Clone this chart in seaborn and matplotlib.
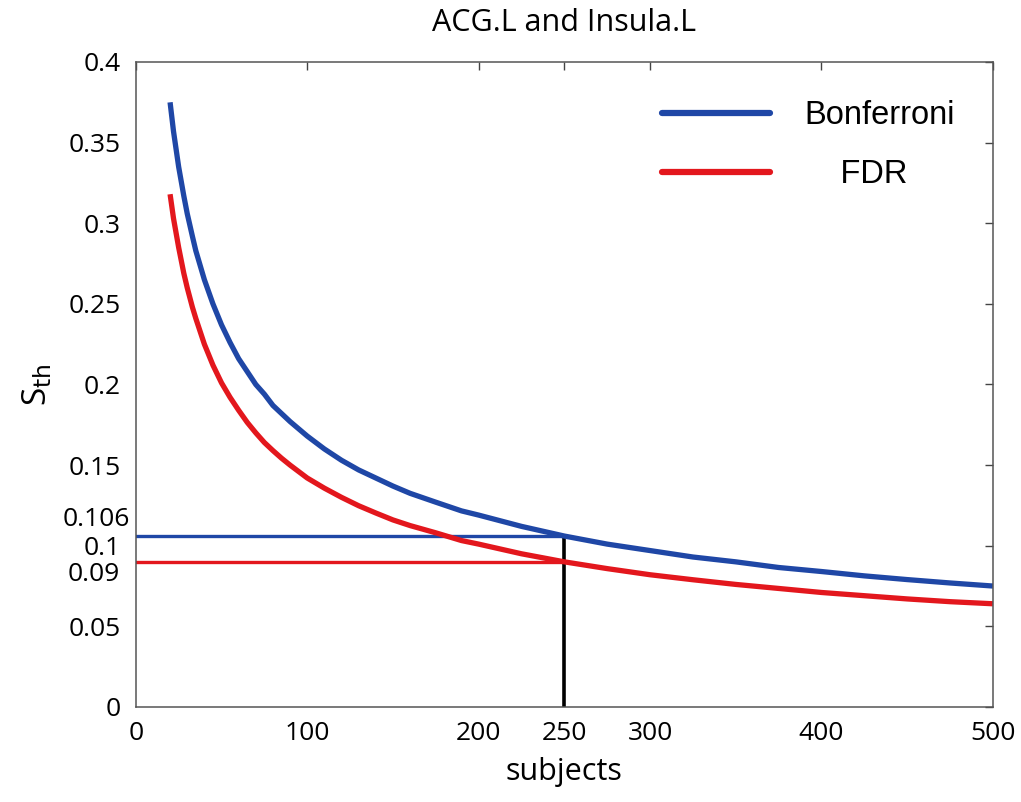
import pandas as pd
import matplotlib
matplotlib.use("Agg")
import matplotlib.pyplot as plt
import matplotlib.transforms as mtransforms
import seaborn as sns

# values
subjects = [20, 22, 25, 28, 30, 33, 35, 40, 45, 50,
            55, 60, 65, 70, 75, 80, 85, 90, 100, 110,
            120, 130, 140, 150, 160, 175, 190, 200, 225, 250,
            275, 300, 325, 350, 375, 400, 425, 450, 475, 500]
bonferroni = [0.375, 0.357, 0.335, 0.317, 0.306, 0.292, 0.283, 0.265, 0.250, 0.237,
              0.226, 0.216, 0.208, 0.200, 0.194, 0.187, 0.182, 0.177, 0.168, 0.160,
              0.153, 0.147, 0.142, 0.137, 0.1325, 0.127, 0.1216, 0.119, 0.112, 0.106,
              0.101, 0.097, 0.093, 0.090, 0.0865, 0.084, 0.0813, 0.079, 0.0769, 0.075]
fdr = [0.318, 0.303, 0.285, 0.269, 0.260, 0.248, 0.241, 0.225, 0.212, 0.201,
       0.192, 0.184, 0.1765, 0.170, 0.164, 0.159, 0.1543, 0.150, 0.142, 0.1357,
       0.130, 0.1248, 0.1203, 0.116, 0.1125, 0.108, 0.1032, 0.101, 0.095, 0.090,
       0.0858, 0.082, 0.0789, 0.076, 0.0735, 0.071, 0.069, 0.067, 0.0653, 0.064]
mark_n = 250
mark_bonf = 0.106
mark_fdr = 0.09
x_ticks = [0, 100, 200, 250, 300, 400, 500]
y_ticks = [0, 0.05, 0.1, 0.15, 0.2, 0.25, 0.3, 0.35, 0.4]
y_ticklabels = ['0', '0.05', '0.1', '0.15', '0.2', '0.25', '0.3', '0.35', '0.4']

blue = '#1f47a6'
red = '#e3171d'

df = pd.DataFrame({
    'subjects': subjects * 2,
    'S': bonferroni + fdr,
    'method': ['Bonferroni'] * len(subjects) + ['FDR'] * len(subjects),
})

sns.set_style('white')
plt.rcParams['font.family'] = ['Open Sans', 'DejaVu Sans']
plt.rcParams['text.color'] = 'black'
plt.rcParams['axes.labelcolor'] = 'black'

fig = plt.figure(figsize=(10.21, 8.02), dpi=100)
ax = fig.add_axes([0.133, 0.1185, 0.8395, 0.8042])

# reference lines first so curves sit on top
ax.plot([0, mark_n], [mark_bonf, mark_bonf], color=blue, lw=2.4)
ax.plot([0, mark_n], [mark_fdr, mark_fdr], color=red, lw=2.4)
ax.plot([mark_n, mark_n], [0, mark_bonf], color='black', lw=2.6)

sns.lineplot(data=df, x='subjects', y='S', hue='method',
             palette={'Bonferroni': blue, 'FDR': red}, lw=3.8, ax=ax,
             legend=False, solid_capstyle='butt')

ax.set_xlim(0, 500)
ax.set_ylim(0, 0.4)
ax.set_xticks(x_ticks)
ax.set_yticks(y_ticks)
ax.set_yticklabels(y_ticklabels)
ax.tick_params(direction='in', length=6, width=1, labelsize=19, pad=10,
               top=True, right=True, colors='#444444', labelcolor='black')
ax.tick_params(axis='y', pad=11)
for s in ax.spines.values():
    s.set_color('#555555')
    s.set_linewidth(1.1)

# extra labels for the marked values
trans = mtransforms.blended_transform_factory(ax.transAxes, ax.transData)
ax.text(-0.007, mark_bonf + 0.0100, '0.106', transform=trans, ha='right',
        va='center', fontsize=19, color='black')
ax.text(-0.018, mark_fdr - 0.008, '0.09', transform=trans, ha='right',
        va='center', fontsize=19, color='black')

ax.set_title('ACG.L and Insula.L', fontsize=22, pad=22, color='black')
ax.set_xlabel('subjects', fontsize=22, labelpad=8)
ax.set_ylabel(r'S$_{\mathrm{th}}$', fontsize=24, labelpad=10)

h1, = ax.plot([], [], color=blue, lw=4.5)
h2, = ax.plot([], [], color=red, lw=4.5)
ax.legend([h1, h2], ['Bonferroni', '    FDR'], loc='upper right',
          bbox_to_anchor=(0.99, 0.986), frameon=False,
          prop={'family': 'Liberation Sans', 'size': 23.5},
          handlelength=3.3, handletextpad=1.05, labelspacing=0.85)

fig.savefig('out.png', dpi=100)
